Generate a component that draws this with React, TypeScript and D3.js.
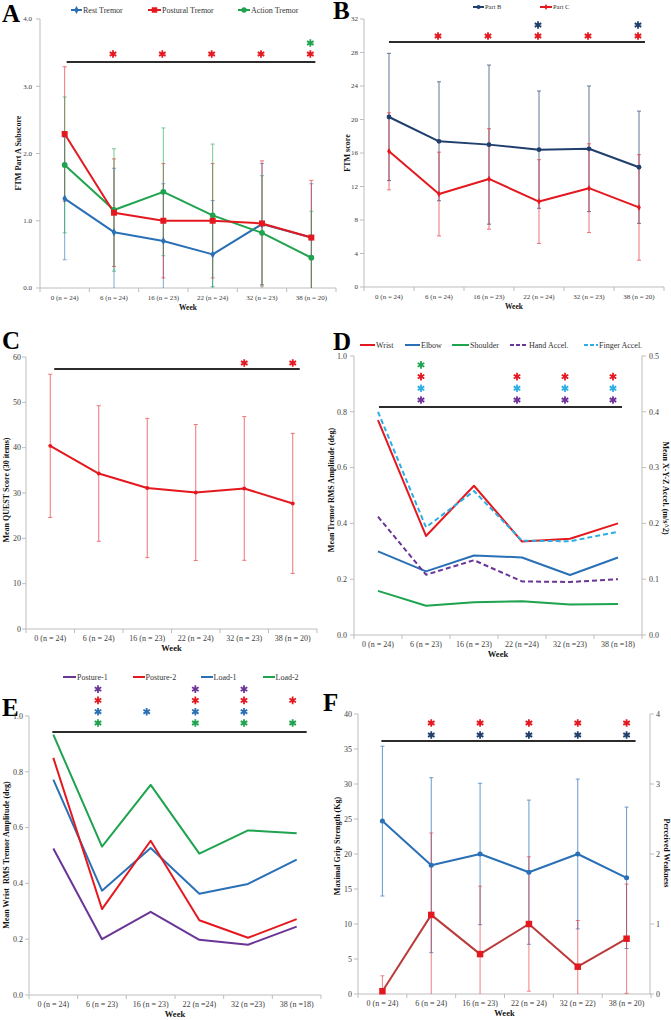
import React from "react";
import * as d3 from "d3";

const FONT = "'Liberation Serif', 'Times New Roman', serif";
const AX = "#bdbdbd";
const TXT = "#404040";

// ---------- categories ----------
const weeksA = ["0 (n = 24)", "6 (n = 24)", "16 (n = 23)", "22 (n = 24)", "32 (n = 23)", "38 (n = 20)"];
const weeksB = ["0 (n = 24)", "6 (n = 24)", "16 (n = 23)", "22 (n = 24)", "32 (n = 23)", "38 (n = 20)"];
const weeksC = ["0 (n = 24)", "6 (n = 24)", "16 (n = 23)", "22 (n = 24)", "32 (n = 23)", "38 (n = 20)"];
const weeksD = ["0 (n = 24)", "6 (n = 23)", "16 (n = 23)", "22 (n =24)", "32 (n =23)", "38 (n =18)"];
const weeksE = ["0 (n = 24)", "6 (n = 23)", "16 (n = 23)", "22 (n =24)", "32 (n =23)", "38 (n =18)"];
const weeksF = ["0 (n = 24)", "6 (n = 24)", "16 (n = 23)", "22 (n = 24)", "32 (n = 22)", "38 (n = 20)"];

// ---------- panel A ----------
const restMean = [1.33, 0.83, 0.7, 0.5, 0.95, 0.75];
const restSd = [0.91, 0.95, 0.85, 0.8, 0.9, 0.8];
const posturalMean = [2.29, 1.12, 1.0, 1.0, 0.96, 0.75];
const posturalSd = [1.0, 0.8, 0.85, 0.85, 0.93, 0.85];
const actionMean = [1.83, 1.16, 1.43, 1.08, 0.82, 0.45];
const actionSd = [1.01, 0.91, 0.95, 1.06, 0.85, 0.69];
const ticksA = [0, 1, 2, 3, 4];
const sigARed = [1, 2, 3, 4, 5];
const sigAGreen = [5];

// ---------- panel B ----------
const partBMean = [20.3, 17.4, 17.0, 16.4, 16.5, 14.3];
const partBSd = [7.6, 7.1, 9.5, 7.0, 7.5, 6.7];
const partCMean = [16.2, 11.1, 12.9, 10.2, 11.8, 9.5];
const partCSd = [4.6, 5.0, 6.0, 5.0, 5.3, 6.3];
const ticksB = [0, 4, 8, 12, 16, 20, 24, 28, 32];
const sigBRed = [1, 2, 3, 4, 5];
const sigBBlue = [3, 5];

// ---------- panel C ----------
const questMean = [40.4, 34.3, 31.1, 30.1, 31.0, 27.7];
const questSd = [15.8, 14.95, 15.35, 15.0, 15.85, 15.45];
const ticksC = [0, 10, 20, 30, 40, 50, 60];
const sigCRed = [4, 5];

// ---------- panel D ----------
const wristD = [0.77, 0.355, 0.535, 0.335, 0.345, 0.4];
const elbowD = [0.3, 0.228, 0.285, 0.278, 0.215, 0.278];
const shoulderD = [0.158, 0.105, 0.117, 0.121, 0.109, 0.111];
const handAccD = [0.212, 0.108, 0.134, 0.096, 0.095, 0.1];
const fingerAccD = [0.4, 0.193, 0.258, 0.169, 0.168, 0.185];
const ticksDL = [0, 0.2, 0.4, 0.6, 0.8, 1.0];
const ticksDR = [0, 0.1, 0.2, 0.3, 0.4, 0.5];
const sigDPurple = [1, 3, 4, 5];
const sigDCyan = [1, 3, 4, 5];
const sigDRed = [1, 3, 4, 5];
const sigDGreen = [1];

// ---------- panel E ----------
const posture1E = [0.525, 0.2, 0.298, 0.198, 0.18, 0.245];
const posture2E = [0.85, 0.308, 0.553, 0.268, 0.205, 0.272];
const load1E = [0.772, 0.374, 0.527, 0.363, 0.398, 0.485];
const load2E = [0.933, 0.532, 0.753, 0.507, 0.59, 0.58];
const ticksE = [0, 0.2, 0.4, 0.6, 0.8, 1.0];
const sigEGreen = [1, 3, 4, 5];
const sigEBlue = [1, 2, 3, 4];
const sigERed = [1, 3, 4, 5];
const sigEPurple = [1, 3, 4];

// ---------- panel F ----------
const gripMean = [24.7, 18.4, 20.0, 17.4, 20.0, 16.6];
const gripSd = [10.7, 12.5, 10.1, 10.3, 10.7, 10.1];
const weakMean = [0.04, 1.13, 0.57, 1.0, 0.39, 0.79];
const weakSd = [0.22, 1.17, 0.97, 0.96, 0.66, 0.78];
const ticksFL = [0, 5, 10, 15, 20, 25, 30, 35, 40];
const ticksFR = [0, 1, 2, 3, 4];
const sigFBlue = [1, 2, 3, 4, 5];
const sigFRed = [1, 2, 3, 4, 5];

// colors
const RED = "#e4191f";
const BLUE = "#2a70b6";
const GREEN = "#1ea34f";
const NAVY = "#213f6d";
const PURPLE = "#6b3597";
const CYAN = "#2aaee4";

type Band = d3.ScaleBand<string>;
type Lin = d3.ScaleLinear<number, number>;

const ctr = (x: Band, c: string) => (x(c) as number) + x.bandwidth() / 2;

function Star({ x, y, color }: { x: number; y: number; color: string }) {
  const d = d3.symbol().type(d3.symbolAsterisk).size(40)() as string;
  return <path transform={`translate(${x},${y})`} d={d} stroke={color} strokeWidth={1.8} fill="none" />;
}

function XAxis({ x, cats, y0, fs }: { x: Band; cats: string[]; y0: number; fs: number }) {
  const [a, b] = x.range();
  const step = x.step();
  return (
    <g>
      <line x1={a} x2={b} y1={y0} y2={y0} stroke={AX} />
      {d3.range(cats.length + 1).map((i) => (
        <line key={i} x1={a + i * step} x2={a + i * step} y1={y0} y2={y0 + 4} stroke={AX} />
      ))}
      {cats.map((c) => (
        <text key={c} x={ctr(x, c)} y={y0 + 9.5} dy="0.35em" textAnchor="middle" fontSize={fs} fill={TXT}>
          {c}
        </text>
      ))}
      <text x={(a + b) / 2} y={y0 + 19.5} dy="0.35em" textAnchor="middle" fontSize={fs + 0.5} fontWeight="bold" fill="#111">
        Week
      </text>
    </g>
  );
}

function YAxis({ y, ticks, x, fs, fmt, side = "left", pad = 6 }: { y: Lin; ticks: number[]; x: number; fs: number; fmt: (n: number) => string; side?: string; pad?: number }) {
  const dir = side === "left" ? -1 : 1;
  const [lo, hi] = y.domain();
  return (
    <g>
      <line x1={x} x2={x} y1={y(lo)} y2={y(hi)} stroke={AX} />
      {ticks.map((t) => (
        <g key={t}>
          <line x1={x} x2={x + dir * 4} y1={y(t)} y2={y(t)} stroke={AX} />
          <text x={x + dir * pad} y={y(t)} dy="0.35em" textAnchor={side === "left" ? "end" : "start"} fontSize={fs} fill={TXT}>
            {fmt(t)}
          </text>
        </g>
      ))}
    </g>
  );
}

function YTitle({ x, cy, text, rot = -90, fs = 8 }: { x: number; cy: number; text: string; rot?: number; fs?: number }) {
  return (
    <text transform={`translate(${x},${cy}) rotate(${rot})`} dy="0.35em" textAnchor="middle" fontSize={fs} fontWeight="bold" fill="#111" style={{ whiteSpace: "pre" }}>
      {text}
    </text>
  );
}

function ErrorBars({ x, cats, y, mean, sd, color, op = 0.75 }: { x: Band; cats: string[]; y: Lin; mean: number[]; sd: number[]; color: string; op?: number }) {
  return (
    <g stroke={color} strokeWidth={1} opacity={op}>
      {mean.map((m, i) => {
        const cx = ctr(x, cats[i]);
        const lo = Math.max(0, m - sd[i]);
        const hi = m + sd[i];
        return (
          <g key={i}>
            <line x1={cx} x2={cx} y1={y(lo)} y2={y(hi)} />
            <line x1={cx - 2} x2={cx + 2} y1={y(hi)} y2={y(hi)} />
            {m - sd[i] > 0 && <line x1={cx - 2} x2={cx + 2} y1={y(lo)} y2={y(lo)} />}
          </g>
        );
      })}
    </g>
  );
}

function Series({ x, cats, y, values, color, width = 2, dash }: { x: Band; cats: string[]; y: Lin; values: number[]; color: string; width?: number; dash?: string }) {
  const gen = d3
    .line<number>()
    .x((_, i) => ctr(x, cats[i]))
    .y((d) => y(d));
  return <path d={gen(values) as string} fill="none" stroke={color} strokeWidth={width} strokeDasharray={dash} strokeLinejoin="round" />;
}

function Markers({ x, cats, y, values, color, type, size }: { x: Band; cats: string[]; y: Lin; values: number[]; color: string; type: d3.SymbolType; size: number }) {
  const d = d3.symbol().type(type).size(size)() as string;
  return (
    <g>
      {values.map((v, i) => (
        <path key={i} transform={`translate(${ctr(x, cats[i])},${y(v)})`} d={d} fill={color} />
      ))}
    </g>
  );
}

type LegItem = { x1: number; x2: number; tx: number; color: string; label: string; type?: d3.SymbolType; size?: number; dash?: string };
function Legend({ y, fs, items }: { y: number; fs: number; items: LegItem[] }) {
  return (
    <g>
      {items.map((it) => (
        <g key={it.label}>
          <line x1={it.x1} x2={it.x2} y1={y} y2={y} stroke={it.color} strokeWidth={2} strokeDasharray={it.dash} />
          {it.type && <path transform={`translate(${(it.x1 + it.x2) / 2},${y})`} d={d3.symbol().type(it.type).size(it.size || 20)() as string} fill={it.color} />}
          <text x={it.tx} y={y} dy="0.35em" fontSize={fs} fill="#333">
            {it.label}
          </text>
        </g>
      ))}
    </g>
  );
}

type Row = { idx: number[]; color: string };
function Sig({ x, cats, lineY, x1, x2, rows, gap, rowGap, dx = 0 }: { x: Band; cats: string[]; lineY: number; x1: number; x2: number; rows: Row[]; gap: number; rowGap: number; dx?: number }) {
  return (
    <g>
      <line x1={x1} x2={x2} y1={lineY} y2={lineY} stroke="#2b2b2b" strokeWidth={2} />
      {rows.map((r, k) =>
        r.idx.map((i) => <Star key={k + "-" + i} x={ctr(x, cats[i]) + dx} y={lineY - gap - k * rowGap} color={r.color} />)
      )}
    </g>
  );
}

const f1 = d3.format(".1f");
const f0 = d3.format("d");

function Letter({ x, y, t }: { x: number; y: number; t: string }) {
  return (
    <text x={x} y={y} fontSize={25} fontWeight="bold" fill="#000">
      {t}
    </text>
  );
}

function PanelA() {
  const x = d3.scaleBand<string>().domain(weeksA).range([40, 336]);
  const y = d3.scaleLinear().domain([0, 4]).range([288, 19]);
  const c = (i: number) => ctr(x, weeksA[i]);
  return (
    <g>
      <Letter x={2} y={22} t="A" />
      <Legend
        y={10}
        fs={8}
        items={[
          { x1: 71, x2: 82, tx: 83, color: BLUE, label: "Rest Tremor", type: d3.symbolDiamond, size: 18 },
          { x1: 148, x2: 161, tx: 162, color: RED, label: "Postural Tremor", type: d3.symbolSquare, size: 30 },
          { x1: 238, x2: 250, tx: 251, color: GREEN, label: "Action Tremor", type: d3.symbolCircle, size: 22 },
        ]}
      />
      <YAxis y={y} ticks={ticksA} x={40} fs={7} fmt={f1} pad={8} />
      <XAxis x={x} cats={weeksA} y0={288} fs={7} />
      <YTitle x={18} cy={153} text="FTM Part A Subscore" />
      <ErrorBars x={x} cats={weeksA} y={y} mean={restMean} sd={restSd} color={BLUE} op={0.6} />
      <ErrorBars x={x} cats={weeksA} y={y} mean={posturalMean} sd={posturalSd} color={RED} op={0.6} />
      <ErrorBars x={x} cats={weeksA} y={y} mean={actionMean} sd={actionSd} color={GREEN} op={0.6} />
      <Series x={x} cats={weeksA} y={y} values={restMean} color={BLUE} />
      <Series x={x} cats={weeksA} y={y} values={actionMean} color={GREEN} />
      <Series x={x} cats={weeksA} y={y} values={posturalMean} color={RED} />
      <Markers x={x} cats={weeksA} y={y} values={restMean} color={BLUE} type={d3.symbolDiamond} size={18} />
      <Markers x={x} cats={weeksA} y={y} values={actionMean} color={GREEN} type={d3.symbolCircle} size={26} />
      <Markers x={x} cats={weeksA} y={y} values={posturalMean} color={RED} type={d3.symbolSquare} size={36} />
      <Sig
        x={x}
        cats={weeksA}
        lineY={62}
        x1={c(0) + 2}
        x2={c(5) + 4}
        gap={8}
        rowGap={11}
        dx={-1}
        rows={[
          { idx: sigARed, color: RED },
          { idx: sigAGreen, color: GREEN },
        ]}
      />
    </g>
  );
}

function PanelB() {
  const x = d3.scaleBand<string>().domain(weeksB).range([364, 664]);
  const y = d3.scaleLinear().domain([0, 32]).range([287, 19]);
  const c = (i: number) => ctr(x, weeksB[i]);
  return (
    <g>
      <Letter x={333} y={19} t="B" />
      <Legend
        y={7}
        fs={6.5}
        items={[
          { x1: 473, x2: 484, tx: 485, color: NAVY, label: "Part B", type: d3.symbolCircle, size: 14 },
          { x1: 540, x2: 552, tx: 553, color: RED, label: "Part C", type: d3.symbolDiamond, size: 10 },
        ]}
      />
      <YAxis y={y} ticks={ticksB} x={364} fs={7} fmt={f0} pad={6} />
      <XAxis x={x} cats={weeksB} y0={287} fs={7} />
      <YTitle x={347} cy={153} text="FTM score" />
      <ErrorBars x={x} cats={weeksB} y={y} mean={partBMean} sd={partBSd} color={NAVY} op={0.7} />
      <ErrorBars x={x} cats={weeksB} y={y} mean={partCMean} sd={partCSd} color={RED} op={0.6} />
      <Series x={x} cats={weeksB} y={y} values={partCMean} color={RED} />
      <Series x={x} cats={weeksB} y={y} values={partBMean} color={NAVY} />
      <Markers x={x} cats={weeksB} y={y} values={partCMean} color={RED} type={d3.symbolDiamond} size={12} />
      <Markers x={x} cats={weeksB} y={y} values={partBMean} color={NAVY} type={d3.symbolCircle} size={18} />
      <Sig
        x={x}
        cats={weeksB}
        lineY={42}
        x1={c(0)}
        x2={c(5) + 6}
        gap={6}
        rowGap={11}
        dx={-1}
        rows={[
          { idx: sigBRed, color: RED },
          { idx: sigBBlue, color: NAVY },
        ]}
      />
    </g>
  );
}

function PanelC() {
  const x = d3.scaleBand<string>().domain(weeksC).range([26, 317]);
  const y = d3.scaleLinear().domain([0, 60]).range([629, 357]);
  const c = (i: number) => ctr(x, weeksC[i]);
  return (
    <g>
      <Letter x={2} y={349} t="C" />
      <YAxis y={y} ticks={ticksC} x={26} fs={8} fmt={f0} pad={5} />
      <XAxis x={x} cats={weeksC} y0={629} fs={8} />
      <YTitle x={6} cy={490} text="Mean QUEST Score (30 items)" />
      <ErrorBars x={x} cats={weeksC} y={y} mean={questMean} sd={questSd} color={RED} op={0.6} />
      <Series x={x} cats={weeksC} y={y} values={questMean} color={RED} />
      <Markers x={x} cats={weeksC} y={y} values={questMean} color={RED} type={d3.symbolCircle} size={12} />
      <Sig x={x} cats={weeksC} lineY={369} x1={c(0) + 4} x2={c(5) + 7} gap={6} rowGap={11} rows={[{ idx: sigCRed, color: RED }]} />
    </g>
  );
}

function PanelD() {
  const x = d3.scaleBand<string>().domain(weeksD).range([354, 642]);
  const yL = d3.scaleLinear().domain([0, 1]).range([635, 356]);
  const yR = d3.scaleLinear().domain([0, 0.5]).range([635, 356]);
  const c = (i: number) => ctr(x, weeksD[i]);
  return (
    <g>
      <Letter x={333} y={350} t="D" />
      <Legend
        y={345}
        fs={8}
        items={[
          { x1: 360, x2: 375, tx: 376, color: RED, label: "Wrist" },
          { x1: 405, x2: 420, tx: 421, color: BLUE, label: "Elbow" },
          { x1: 452, x2: 469, tx: 470, color: GREEN, label: "Shoulder" },
          { x1: 510, x2: 528, tx: 529, color: PURPLE, label: "Hand Accel.", dash: "4,2" },
          { x1: 584, x2: 598, tx: 599, color: CYAN, label: "Finger Accel.", dash: "4,2" },
        ]}
      />
      <YAxis y={yL} ticks={ticksDL} x={354} fs={8} fmt={f1} pad={7} />
      <YAxis y={yR} ticks={ticksDR} x={642} fs={8} fmt={f1} side="right" pad={7} />
      <XAxis x={x} cats={weeksD} y0={635} fs={8} />
      <YTitle x={331} cy={490} text="Mean Tremor RMS Amplitude (deg)" />
      <YTitle x={666} cy={488} rot={90} text="Mean X-Y-Z Accel. (m/s^2)" />
      <Series x={x} cats={weeksD} y={yL} values={shoulderD} color={GREEN} />
      <Series x={x} cats={weeksD} y={yL} values={elbowD} color={BLUE} />
      <Series x={x} cats={weeksD} y={yR} values={handAccD} color={PURPLE} dash="5,3" />
      <Series x={x} cats={weeksD} y={yL} values={wristD} color={RED} />
      <Series x={x} cats={weeksD} y={yR} values={fingerAccD} color={CYAN} dash="5,3" />
      <Sig
        x={x}
        cats={weeksD}
        lineY={407}
        x1={c(0) + 1}
        x2={c(5) + 4}
        gap={7}
        rowGap={11.7}
        dx={-5}
        rows={[
          { idx: sigDPurple, color: PURPLE },
          { idx: sigDCyan, color: CYAN },
          { idx: sigDRed, color: RED },
          { idx: sigDGreen, color: GREEN },
        ]}
      />
    </g>
  );
}

function PanelE() {
  const x = d3.scaleBand<string>().domain(weeksE).range([29, 321]);
  const y = d3.scaleLinear().domain([0, 1]).range([995, 716]);
  const c = (i: number) => ctr(x, weeksE[i]);
  return (
    <g>
      <Letter x={2} y={716} t="E" />
      <Legend
        y={677}
        fs={8}
        items={[
          { x1: 63, x2: 76, tx: 77, color: PURPLE, label: "Posture-1" },
          { x1: 133, x2: 145, tx: 145.5, color: RED, label: "Posture-2" },
          { x1: 201, x2: 213, tx: 213.5, color: BLUE, label: "Load-1" },
          { x1: 263, x2: 275, tx: 275.5, color: GREEN, label: "Load-2" },
        ]}
      />
      <YAxis y={y} ticks={ticksE} x={29} fs={8} fmt={f1} pad={6} />
      <XAxis x={x} cats={weeksE} y0={995} fs={8} />
      <YTitle x={6} cy={855} text="Mean Wrist  RMS Tremor Amplitude (deg)" />
      <Series x={x} cats={weeksE} y={y} values={load2E} color={GREEN} />
      <Series x={x} cats={weeksE} y={y} values={load1E} color={BLUE} />
      <Series x={x} cats={weeksE} y={y} values={posture2E} color={RED} />
      <Series x={x} cats={weeksE} y={y} values={posture1E} color={PURPLE} />
      <Sig
        x={x}
        cats={weeksE}
        lineY={732}
        x1={c(0) - 1}
        x2={c(5) + 10}
        gap={9}
        rowGap={11.3}
        dx={-4}
        rows={[
          { idx: sigEGreen, color: GREEN },
          { idx: sigEBlue, color: BLUE },
          { idx: sigERed, color: RED },
          { idx: sigEPurple, color: PURPLE },
        ]}
      />
    </g>
  );
}

function PanelF() {
  const x = d3.scaleBand<string>().domain(weeksF).range([358, 651]);
  const yL = d3.scaleLinear().domain([0, 40]).range([994, 714]);
  const yR = d3.scaleLinear().domain([0, 4]).range([994, 714]);
  const c = (i: number) => ctr(x, weeksF[i]);
  return (
    <g>
      <Letter x={323} y={711} t="F" />
      <YAxis y={yL} ticks={ticksFL} x={358} fs={8} fmt={f0} pad={6} />
      <YAxis y={yR} ticks={ticksFR} x={650} fs={8} fmt={f0} side="right" pad={6} />
      <XAxis x={x} cats={weeksF} y0={994} fs={8} />
      <YTitle x={337} cy={846} text="Maximal Grip Strength (Kg)" />
      <YTitle x={667} cy={853} rot={90} text="Perceived Weakness" />
      <ErrorBars x={x} cats={weeksF} y={yL} mean={gripMean} sd={gripSd} color={BLUE} op={0.7} />
      <ErrorBars x={x} cats={weeksF} y={yR} mean={weakMean} sd={weakSd} color={RED} op={0.55} />
      <Series x={x} cats={weeksF} y={yL} values={gripMean} color={BLUE} />
      <Series x={x} cats={weeksF} y={yR} values={weakMean} color="#bb3b3b" />
      <Markers x={x} cats={weeksF} y={yL} values={gripMean} color={BLUE} type={d3.symbolCircle} size={20} />
      <Markers x={x} cats={weeksF} y={yR} values={weakMean} color={RED} type={d3.symbolSquare} size={42} />
      <Sig
        x={x}
        cats={weeksF}
        lineY={741}
        x1={c(0) - 1}
        x2={c(5) + 9}
        gap={6}
        rowGap={12}
        rows={[
          { idx: sigFBlue, color: NAVY },
          { idx: sigFRed, color: RED },
        ]}
      />
    </g>
  );
}

export default function App() {
  return (
    <svg width={671} height={1020} style={{ position: "absolute", left: 0, top: 0, background: "#fff" }} fontFamily={FONT}>
      <rect width={671} height={1020} fill="#fff" />
      <PanelA />
      <PanelB />
      <PanelC />
      <PanelD />
      <PanelE />
      <PanelF />
    </svg>
  );
}
